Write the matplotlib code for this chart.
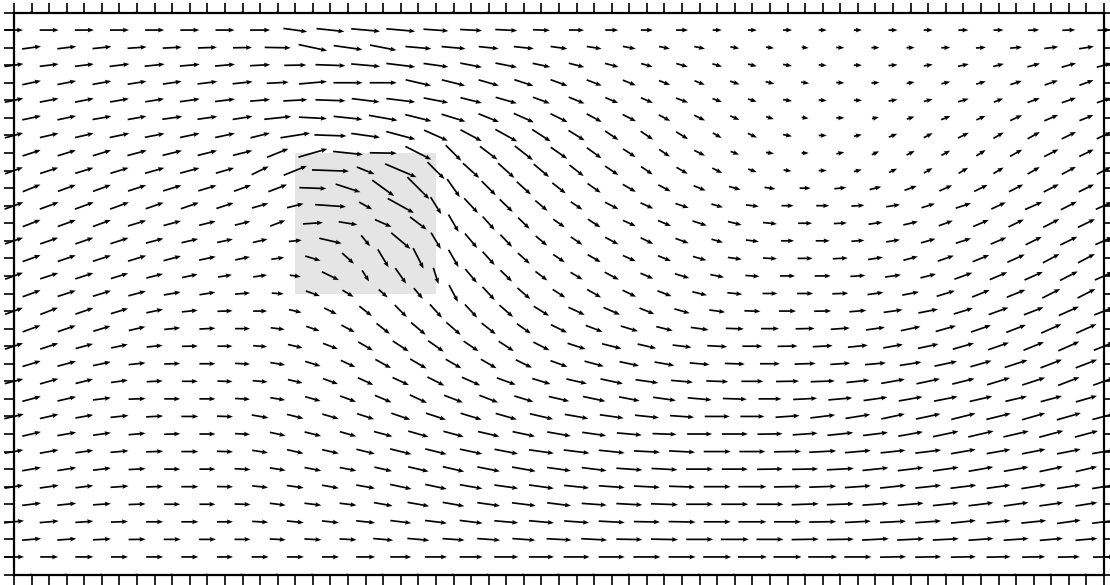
import sys
import numpy as np
import matplotlib
matplotlib.use("Agg")
import matplotlib.pyplot as plt
from matplotlib.patches import Rectangle

# Grid: columns i = 0..62, rows j = 0..32 (j = 0 at top wall).
# Rows with even j carry arrows at odd i, rows with odd j at even i.
# Angles in degrees (positive = up/right), lengths in pixels.

ang_r00 = [0,0,0,0,0,0,0,0, 0,0,0,0,0,0,0,0, 0,0,0,0,0,0,0,0, 0,0,0,0,0,0,0]
len_r00 = [3,3,3,3,3,3,3,3, 3,3,3,3,3,3,3,3, 3,3,3,3,3,3,3,3, 3,3,3,3,3,3,3]

ang_r01 = [0,0,0,0,0,0,0,0, -8,-6,-5,-5,-4,-3,-3,-2, -1,0,0,0,0,0,0,0, 0,0,0,0,1,2,2,2]
len_r01 = [18,19,19,19,19,19,19,20, 24,28,29,29,25,22,22,17, 15,13,12,12,9,9,9,8, 8,9,9,10,10,11,13,13]

ang_r02 = [8,7,6,4,3,2,1,-1, -12,-8,-11,-5,-5,-6,-6,-8, -9,-11,-12,-12,-10,-8,-5,-3, 0,0,2,4,5,7,9]
len_r02 = [19,19,19,19,19,19,19,26, 29,29,27,26,24,20,20,17, 15,13,11,11,9,8,7,8, 8,8,9,10,12,14,15]

ang_r03 = [8,7,7,7,6,5,5,3, 1,-2,-5,-7,-8,-11,-11,-12, -14,-15,-16,-16,-16,-14,-10,-5, 0,5,9,12,14,15,16,16]
len_r03 = [19,19,19,20,20,20,20,20, 22,30,29,29,25,22,22,18, 16,14,12,12,10,9,9,8, 8,9,9,11,11,13,15,15]

ang_r04 = [12,11,10,9,8,7,6,3, 5,0,0,-13,-14,-16,-18,-20, -21,-22,-22,-21,-19,-15,-9,-3, 3,9,13,16,18,19,20]
len_r04 = [19,19,19,19,19,20,20,22, 28,29,27,26,24,21,20,18, 16,14,12,11,10,9,8,8, 8,8,9,10,12,14,15]

ang_r05 = [12,11,11,10,9,8,7,5, 3,-2,-7,-7,-11,-14,-16,-20, -22,-23,-23,-20,-20,-17,-9,-5, 0,9,15,16,21,20,19,19]
len_r05 = [19,19,19,19,19,20,20,20, 24,30,28,29,25,22,22,18, 17,14,13,13,10,9,9,8, 8,9,9,11,10,13,15,15]

ang_r06 = [12,12,10,10,8,8,9,6, -3,-6,-10,-14,-17,-22,-24,-26, -28,-27,-28,-26,-24,-18,-8,0, 12,18,22,24,25,23,22]
len_r06 = [19,19,19,19,20,20,20,27, 28,29,29,27,25,22,22,19, 17,15,13,12,10,8,7,8, 7,8,10,10,13,15,15]

ang_r07 = [15,13,13,12,11,12,12,14, 9,-2,-8,-15,-24,-28,-29,-33, -32,-34,-34,-31,-30,-25,-11,0, 12,21,27,26,30,29,26,25]
len_r07 = [19,19,19,20,20,20,20,20, 30,32,29,30,26,24,25,22, 19,16,15,14,10,10,9,8, 8,9,10,12,12,14,16,16]

ang_r08 = [18,17,17,15,14,14,14,22, 16,-6,-1,-27,-45,-37,-38,-35, -36,-33,-34,-26,-21,-9,0,12, 25,27,29,32,29,27,26]
len_r08 = [19,19,19,20,20,20,20,23, 30,30,27,29,22,22,23,20, 18,15,13,12,9,8,7,8, 8,9,10,11,14,16,16]

ang_r09 = [20,18,17,17,16,15,16,26, 22,-2,-22,-23,-45,-42,-42,-40, -38,-34,-34,-30,-27,-20,-8,0, 14,25,30,30,31,30,28,27]
len_r09 = [19,19,19,19,20,20,19,19, 25,37,19,34,24,22,22,20, 18,16,14,13,11,9,8,8, 8,9,10,11,12,14,16,16]

ang_r10 = [22,20,20,18,17,17,20,21, -2,-18,-36,-45,-55,-45,-42,-38, -35,-30,-28,-22,-16,-8,0,6, 14,20,24,26,27,27,26]
len_r10 = [19,19,19,19,19,19,18,20, 27,26,27,31,22,20,19,17, 16,15,14,13,12,11,11,12, 12,13,14,15,16,17,17]

ang_r11 = [20,20,20,20,19,19,18,16, 14,-4,-29,-29,-58,-47,-44,-40, -34,-27,-24,-18,-16,-7,0,0, 4,9,17,18,25,24,27,24]
len_r11 = [20,20,20,20,19,19,18,17, 17,31,15,30,20,20,18,16, 14,15,14,14,12,13,12,13, 13,14,14,16,16,19,18,18]

ang_r12 = [21,20,20,17,15,14,14,21, 4,-9,-24,-37,-60,-48,-44,-35, -33,-24,-23,-18,-14,-6,0,3, 8,13,20,23,26,27,26]
len_r12 = [19,19,19,19,18,17,16,16, 20,19,18,21,20,18,16,14, 15,14,14,15,14,14,14,13, 14,15,15,17,17,18,19]

ang_r13 = [19,19,19,18,15,13,12,13, 6,-13,-51,-40,-59,-50,-46,-40, -34,-28,-26,-20,-16,-7,0,0, 4,9,16,18,23,26,26,24]
len_r13 = [19,19,19,19,18,17,16,15, 13,23,14,25,19,19,17,15, 14,15,14,14,12,13,13,14, 13,14,15,16,17,18,19,19]

ang_r14 = [20,19,18,17,15,12,12,8, -17,-42,-59,-63,-60,-48,-42,-34, -30,-24,-22,-16,-8,-3,0,3, 9,15,19,22,24,28,28]
len_r14 = [19,19,19,19,18,17,15,13, 16,16,21,23,20,18,16,14, 15,14,14,14,14,14,15,15, 15,15,17,18,19,19,19]

ang_r15 = [20,18,18,17,14,12,9,8, -8,-26,-58,-55,-72,-50,-44,-37, -31,-28,-23,-17,-11,-4,0,0, 4,8,14,20,23,24,27,24]
len_r15 = [19,19,19,18,17,16,14,14, 11,19,13,19,17,18,16,15, 14,16,14,15,14,14,15,16, 15,16,16,19,19,20,20,20]

ang_r16 = [20,18,17,15,10,9,5,-4, -20,-31,-42,-50,-62,-47,-41,-33, -30,-26,-21,-13,-6,0,0,2, 8,11,17,22,22,27,27]
len_r16 = [19,19,19,18,17,16,15,12, 15,13,12,14,19,18,17,15, 16,15,15,15,15,15,16,16, 16,17,19,19,20,20,20]

ang_r17 = [20,21,19,17,12,6,2,0, -13,-26,-38,-45,-48,-47,-41,-32, -25,-24,-22,-16,-8,-2,0,1, 5,8,11,17,20,21,24,22]
len_r17 = [19,19,19,18,17,16,15,14, 13,14,16,17,18,18,18,18, 18,18,16,16,16,16,17,17, 17,19,20,20,21,21,22,21]

ang_r18 = [20,19,17,13,6,3,0,-7, -19,-28,-38,-40,-41,-38,-35,-26, -21,-17,-14,-8,-2,0,1,4, 8,12,16,19,21,24,24]
len_r18 = [19,19,18,17,16,16,15,14, 14,15,17,19,19,18,17,18, 18,18,17,18,18,18,19,19, 19,20,21,21,21,22,22]

ang_r19 = [18,18,15,12,6,1,0,-4, -13,-21,-30,-33,-35,-34,-33,-27, -18,-14,-13,-7,-3,0,1,3, 6,10,12,16,19,22,24,22]
len_r19 = [19,19,18,17,16,16,15,14, 15,16,17,19,19,18,18,18, 19,20,19,19,20,20,20,20, 20,20,21,22,22,22,23,22]

ang_r20 = [17,15,12,6,2,0,-3,-9, -17,-25,-29,-30,-30,-30,-26,-20, -15,-12,-10,-5,-2,0,2,4, 5,9,12,16,18,21,21]
len_r20 = [19,19,18,17,16,16,15,15, 16,16,18,19,18,18,18,18, 20,20,20,20,20,20,21,20, 21,22,23,22,24,23,23]

ang_r21 = [14,16,14,8,3,0,-2,-5, -13,-20,-25,-25,-27,-24,-20,-17, -13,-12,-8,-5,-2,0,1,2, 6,10,12,14,17,18,21,20]
len_r21 = [19,19,18,17,16,16,15,15, 15,16,17,18,19,20,20,19, 21,23,23,22,22,22,23,24, 23,24,24,23,24,24,23,23]

ang_r22 = [15,13,7,2,0,0,-3,-9, -16,-20,-23,-25,-21,-21,-17,-13, -12,-11,-8,-5,-2,0,3,5, 8,10,11,13,13,15,16]
len_r22 = [19,19,18,17,16,16,15,15, 16,17,18,19,20,20,20,21, 23,21,23,24,24,23,24,24, 24,24,24,23,22,22,22]

ang_r23 = [13,13,10,6,3,0,-2,-10, -14,-16,-18,-19,-18,-17,-16,-13, -10,-8,-6,-4,0,0,4,7, 9,12,12,14,14,16,16,15]
len_r23 = [20,19,18,18,17,17,16,17, 17,17,18,20,21,22,22,24, 24,24,24,24,25,24,24,25, 25,24,25,25,25,24,25,24]

ang_r24 = [13,10,8,5,2,0,-3,-12, -14,-16,-15,-16,-15,-13,-12,-10, -8,-5,-2,0,0,1,4,6, 7,10,12,13,13,15,15]
len_r24 = [19,19,18,17,16,16,15,16, 17,17,19,21,21,22,23,24, 24,25,24,25,26,25,25,26, 25,25,26,26,26,25,24]

ang_r25 = [10,10,8,5,2,0,-2,-9, -13,-13,-14,-14,-14,-12,-11,-8, -7,-6,-3,-3,0,0,1,3, 5,6,7,10,10,11,11,10]
len_r25 = [19,19,18,18,17,17,16,16, 17,17,19,22,22,23,24,25, 26,26,26,26,27,26,27,27, 26,25,26,25,24,24,24,24]

ang_r26 = [10,9,7,3,0,0,-3,-9, -11,-11,-13,-13,-13,-11,-10,-8, -7,-4,-3,0,0,1,1,3, 6,7,8,10,10,12,13]
len_r26 = [19,19,18,17,16,16,16,16, 17,17,18,21,22,23,24,24, 25,26,26,27,26,26,26,27, 26,26,26,25,25,24,22]

ang_r27 = [9,8,7,4,2,0,-1,-6, -8,-10,-10,-12,-12,-10,-8,-8, -6,-4,-3,-2,0,0,1,2, 4,6,6,7,8,9,9,9]
len_r27 = [19,19,18,18,17,17,16,16, 17,17,19,22,22,23,24,25, 25,26,26,26,27,28,27,27, 26,26,26,26,24,25,24,24]

ang_r28 = [7,6,4,2,0,0,-2,-7, -7,-7,-10,-10,-10,-8,-7,-7, -4,-3,-2,0,0,0,2,2, 4,5,6,7,8,8,9]
len_r28 = [19,19,18,17,16,16,16,16, 17,17,19,22,22,23,24,24, 25,26,27,27,27,27,27,27, 26,26,26,25,25,24,22]

ang_r29 = [6,5,4,2,0,0,0,-3, -6,-6,-6,-7,-7,-7,-5,-5, -4,-3,-1,-1,0,0,0,1, 3,3,4,6,6,6,8,7]
len_r29 = [20,19,18,17,17,17,16,16, 17,17,19,21,22,23,24,25, 25,26,26,27,27,28,27,27, 26,26,26,25,24,25,24,24]

ang_r30 = [5,4,3,1,0,0,0,-3, -3,-3,-5,-5,-4,-4,-4,-3, -3,-1,-1,0,0,0,1,1, 3,3,3,4,4,5,5]
len_r30 = [19,19,18,17,17,17,16,16, 17,17,20,22,22,23,23,25, 26,26,27,27,28,27,27,27, 27,27,26,25,25,23,22]

ang_r31 = [0,0,0,0,0,0,0,0, 0,0,0,0,0,0,0,0, 0,0,0,0,0,0,0,0, 0,1,1,1,1,1,1,1]
len_r31 = [20,18,18,17,17,17,16,17, 17,17,19,21,22,23,24,25, 26,26,27,27,28,29,28,29, 27,26,26,25,24,23,22,22]

ang_r32 = [0,0,0,0,0,0,0,0, 0,0,0,0,0,0,0,0, 0,0,0,0,0,0,0,0, 0,0,0,0,0,0,0]
len_r32 = [3,3,3,3,3,3,3,3, 3,3,3,3,3,3,3,3, 3,3,3,3,3,3,3,3, 3,3,3,3,3,3,3]

obstacle_x = (16, 24)
obstacle_y = (8, 16)

ang_rows = [ang_r00, ang_r01, ang_r02, ang_r03, ang_r04, ang_r05, ang_r06, ang_r07,
            ang_r08, ang_r09, ang_r10, ang_r11, ang_r12, ang_r13, ang_r14, ang_r15,
            ang_r16, ang_r17, ang_r18, ang_r19, ang_r20, ang_r21, ang_r22, ang_r23,
            ang_r24, ang_r25, ang_r26, ang_r27, ang_r28, ang_r29, ang_r30, ang_r31, ang_r32]
len_rows = [len_r00, len_r01, len_r02, len_r03, len_r04, len_r05, len_r06, len_r07,
            len_r08, len_r09, len_r10, len_r11, len_r12, len_r13, len_r14, len_r15,
            len_r16, len_r17, len_r18, len_r19, len_r20, len_r21, len_r22, len_r23,
            len_r24, len_r25, len_r26, len_r27, len_r28, len_r29, len_r30, len_r31, len_r32]

NX, NY = 62, 32
X, Y, U, V = [], [], [], []
for j, (arow, lrow) in enumerate(zip(ang_rows, len_rows)):
    start = 1 if j % 2 == 0 else 0
    for k, (a, L) in enumerate(zip(arow, lrow)):
        i = start + 2 * k
        if i > NX:
            break
        X.append(i)
        Y.append(NY - j)
        U.append(L * np.cos(np.radians(a)))
        V.append(L * np.sin(np.radians(a)))

fig = plt.figure(figsize=(11.1, 5.85), dpi=100)
ax = fig.add_axes([14 / 1110, (585 - 574.5) / 585, 1090 / 1110, 562 / 585])
ax.set_xlim(0, NX)
ax.set_ylim(0, NY)

ax.add_patch(Rectangle((obstacle_x[0], NY - obstacle_y[1]),
                       obstacle_x[1] - obstacle_x[0], obstacle_y[1] - obstacle_y[0],
                       facecolor="#e5e5e5", edgecolor="none", zorder=1))

q = ax.quiver(X, Y, U, V, angles="uv", scale_units="inches", scale=100,
              pivot="middle", units="inches", width=0.017,
              headwidth=2.8, headlength=3.6, headaxislength=3.2,
              color="black", zorder=3)
q.set_clip_on(False)

ax.set_xticks(range(NX + 1))
ax.set_yticks(range(NY + 1))
ax.tick_params(direction="out", length=7, width=1.2, top=True, right=True,
               labelbottom=False, labelleft=False, labeltop=False, labelright=False)
for s in ax.spines.values():
    s.set_linewidth(1.6)

fig.savefig("out.png", dpi=100)
